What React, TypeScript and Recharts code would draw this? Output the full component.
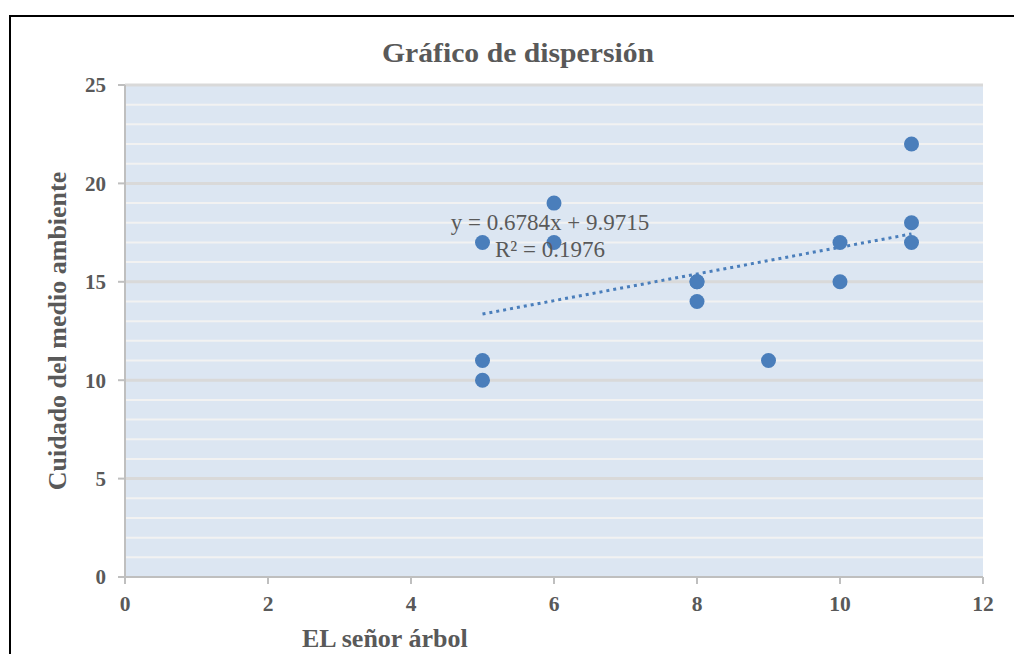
import React from "react";
import {
  ScatterChart,
  Scatter,
  XAxis,
  YAxis,
  CartesianGrid,
  ReferenceLine,
} from "recharts";

// Datos
const arbol = [5, 5, 5, 6, 6, 8, 8, 8, 9, 10, 10, 11, 11, 11];
const medioAmbiente = [17, 11, 10, 19, 17, 15, 15, 14, 11, 17, 15, 22, 18, 17];
const xTicks = [0, 2, 4, 6, 8, 10, 12];
const yTicks = [0, 5, 10, 15, 20, 25];
const minorLines = [1, 2, 3, 4, 6, 7, 8, 9, 11, 12, 13, 14, 16, 17, 18, 19, 21, 22, 23, 24];
const majorLines = [5, 10, 15, 20, 25];

// Línea de tendencia
const pendiente = 0.6784;
const intercepto = 9.9715;
const trendX = [5, 11];

const points = arbol.map((x, i) => ({ x, y: medioAmbiente[i] }));
const trendSegment = trendX.map((x) => ({ x, y: pendiente * x + intercepto }));

const gray = "#595959";
const serif = "'Liberation Serif', 'Times New Roman', serif";

export default function App() {
  return (
    <div
      style={{
        position: "absolute",
        left: 0,
        top: 0,
        width: 1014,
        height: 654,
        overflow: "hidden",
        background: "#fff",
        fontFamily: serif,
      }}
    >
      {/* marco negro */}
      <div
        style={{
          position: "absolute",
          left: 9,
          top: 15,
          width: 1030,
          height: 700,
          border: "2px solid #000",
        }}
      />
      <ScatterChart
        width={1014}
        height={654}
        margin={{ top: 85, right: 31, bottom: 37, left: 65 }}
        style={{ position: "absolute", left: 0, top: 0 }}
      >
        <CartesianGrid horizontal={false} vertical={false} fill="#dce6f2" />
        {minorLines.map((v) => (
          <ReferenceLine key={"m" + v} y={v} stroke="#f2f2f2" strokeWidth={2} />
        ))}
        {majorLines.map((v) => (
          <ReferenceLine key={"M" + v} y={v} stroke="#d9d9d9" strokeWidth={3} />
        ))}
        <XAxis
          type="number"
          dataKey="x"
          domain={[0, 12]}
          ticks={xTicks}
          height={40}
          stroke="#bfbfbf"
          strokeWidth={2}
          tickSize={7}
          tickMargin={12}
          tick={{ fill: gray, fontSize: 21.5, fontWeight: "bold", fontFamily: serif }}
        />
        <YAxis
          type="number"
          dataKey="y"
          domain={[0, 25]}
          ticks={yTicks}
          width={60}
          stroke="#bfbfbf"
          strokeWidth={2}
          tickSize={7}
          tickMargin={12}
          tick={{ fill: gray, fontSize: 21, fontWeight: "bold", fontFamily: serif }}
        />
        <ReferenceLine
          segment={trendSegment}
          stroke="#4a7ebb"
          strokeWidth={3}
          strokeDasharray="3 4"
        />
        <Scatter data={points} fill="#4a7ebb" isAnimationActive={false} shape={(p: any) => (
          <circle cx={p.cx} cy={p.cy} r={7.5} fill="#4a7ebb" />
        )} />
      </ScatterChart>
      {/* título */}
      <div
        style={{
          position: "absolute",
          left: 518,
          top: 39,
          transform: "translateX(-50%) scaleX(1.06)",
          fontSize: 28,
          lineHeight: 1,
          fontWeight: "bold",
          color: gray,
          whiteSpace: "nowrap",
        }}
      >
        Gráfico de dispersión
      </div>
      {/* ecuación */}
      <div
        style={{
          position: "absolute",
          left: 430,
          top: 209,
          fontSize: 23,
          color: gray,
          lineHeight: "27px",
          textAlign: "center",
          width: 240,
        }}
      >
        y = 0.6784x + 9.9715
        <br />
        R² = 0.1976
      </div>
      {/* título eje X */}
      <div
        style={{
          position: "absolute",
          left: 302,
          top: 626,
          fontSize: 26,
          lineHeight: 1,
          fontWeight: "bold",
          color: gray,
          whiteSpace: "nowrap",
        }}
      >
        EL señor árbol
      </div>
      {/* título eje Y */}
      <div
        style={{
          position: "absolute",
          left: 58,
          top: 331,
          transform: "translate(-50%, -50%) rotate(-90deg)",
          fontSize: 26,
          lineHeight: 1,
          fontWeight: "bold",
          color: gray,
          whiteSpace: "nowrap",
        }}
      >
        Cuidado del medio ambiente
      </div>
    </div>
  );
}
